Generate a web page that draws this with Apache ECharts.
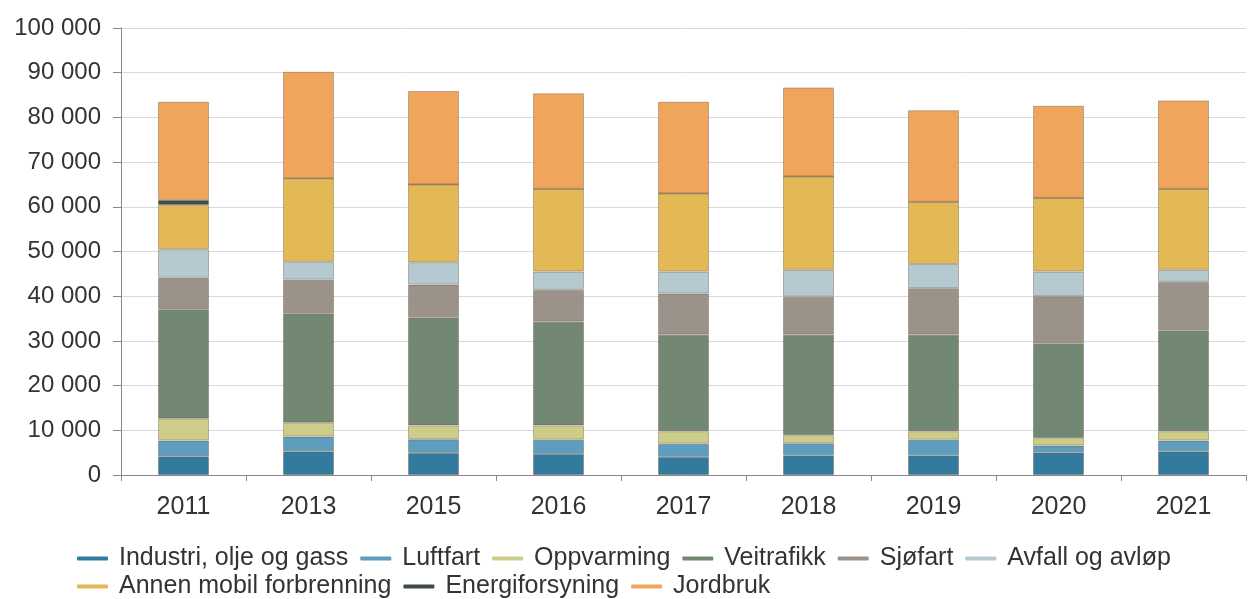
<!DOCTYPE html>
<html>
<head>
<meta charset="utf-8">
<script src="https://cdn.jsdelivr.net/npm/echarts@6/dist/echarts.min.js"></script>
<style>
  html, body { margin: 0; padding: 0; background: #fff; }
  #chart { width: 1248px; height: 599px; }
</style>
</head>
<body>
<div id="chart"></div>
<script>
// år på x-aksen
const years = ['2011', '2013', '2015', '2016', '2017', '2018', '2019', '2020', '2021'];

// utslipp per kilde
const industri   = [4200, 5300, 4900, 4700, 4000, 4400, 4400, 5100, 5300];
const luftfart   = [3500, 3300, 3100, 3200, 3000, 2700, 3500, 1500, 2400];
const oppvarming = [4900, 3100, 3100, 3200, 2800, 1800, 1900, 1700, 2100];
const veitrafikk = [24500, 24500, 24200, 23200, 21600, 22500, 21600, 21200, 22600];
const sjofart    = [7000, 7500, 7300, 7100, 9200, 8500, 10400, 10500, 10800];
const avfall     = [6400, 4000, 5000, 4100, 4900, 6000, 5400, 5500, 2700];
const annenMobil = [9900, 18700, 17400, 18500, 17500, 20900, 13900, 16500, 18100];
const energi     = [1100, 0, 0, 0, 0, 0, 0, 0, 0];
const jordbruk   = [22000, 23800, 20900, 21400, 20500, 19900, 20500, 20600, 19800];

const seriesDefs = [
  { name: 'Industri, olje og gass', data: industri, color: '#327b9e' },
  { name: 'Luftfart', data: luftfart, color: '#5e9dbd' },
  { name: 'Oppvarming', data: oppvarming, color: '#cdcd8a' },
  { name: 'Veitrafikk', data: veitrafikk, color: '#738872' },
  { name: 'Sjøfart', data: sjofart, color: '#9b938a' },
  { name: 'Avfall og avløp', data: avfall, color: '#b4c9d0' },
  { name: 'Annen mobil forbrenning', data: annenMobil, color: '#e3b955' },
  { name: 'Energiforsyning', data: energi, color: '#3f4a4f' },
  { name: 'Jordbruk', data: jordbruk, color: '#f0a55d' }
];

const chart = echarts.init(document.getElementById('chart'));

// tusenskille med mellomrom
function fmt(v) {
  return String(v).replace(/\B(?=(\d{3})+(?!\d))/g, ' ');
}

// to legend-rader, som i originalen
function legendRow(top, names) {
  return {
    left: 72,
    top: top,
    icon: 'roundRect',
    itemWidth: 31,
    itemHeight: 4,
    itemGap: 12,
    itemStyle: { borderWidth: 0 },
    textStyle: { fontSize: 25, color: '#333', padding: [0, 0, 0, 6] },
    data: names
  };
}

const names = seriesDefs.map(s => s.name);

const option = {
  animation: false,
  textStyle: { fontFamily: 'Liberation Sans, Arial, sans-serif' },
  grid: { left: 121, right: 2, top: 28, bottom: 124 },
  legend: [
    legendRow(541, names.slice(0, 6)),
    legendRow(569, names.slice(6))
  ],
  xAxis: {
    type: 'category',
    data: years,
    axisLine: { lineStyle: { color: '#888' } },
    axisTick: { show: true, length: 6, lineStyle: { color: '#888' } },
    axisLabel: { fontSize: 25, color: '#333', margin: 20 }
  },
  yAxis: {
    type: 'value',
    min: 0,
    max: 100000,
    interval: 10000,
    axisLine: { show: true, lineStyle: { color: '#888' } },
    axisTick: { show: true, length: 8, lineStyle: { color: '#888' } },
    axisLabel: { fontSize: 24, color: '#333', margin: 20, formatter: fmt },
    splitLine: { lineStyle: { color: '#d9d9d9' } }
  },
  series: seriesDefs.map(s => ({
    name: s.name,
    type: 'bar',
    stack: 'total',
    barWidth: 51,
    data: s.data,
    itemStyle: {
      color: s.color,
      borderColor: 'rgba(90,70,50,0.35)',
      borderWidth: 1
    }
  }))
};

chart.setOption(option);
</script>
</body>
</html>
